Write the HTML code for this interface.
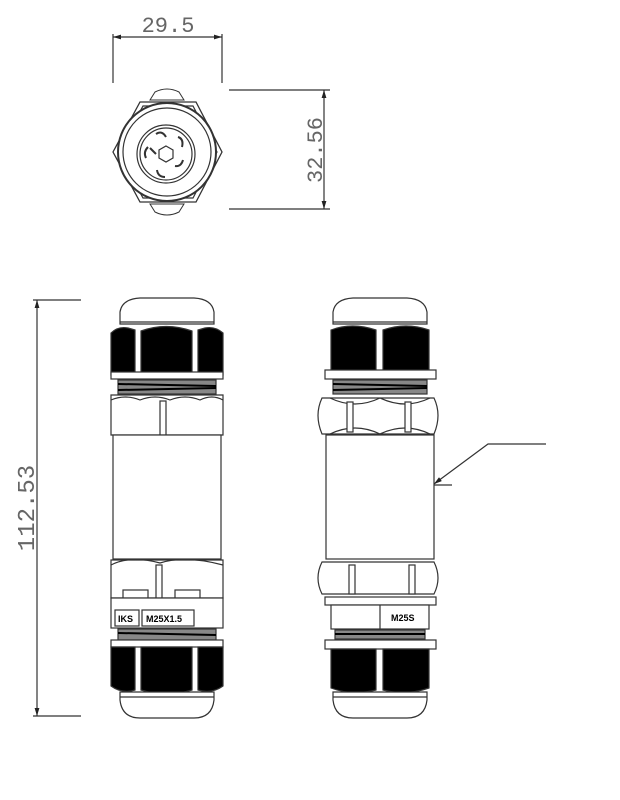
<!DOCTYPE html>
<html><head><meta charset="utf-8"><style>
html,body{margin:0;padding:0;background:#fff;width:620px;height:800px;overflow:hidden}
svg{display:block}
text{font-family:"Liberation Mono","DejaVu Sans Mono",monospace;fill:#666}
</style></head><body>
<svg width="620" height="800" viewBox="0 0 620 800" xmlns="http://www.w3.org/2000/svg">
<defs>
<marker id="a" viewBox="0 0 10 6" refX="10" refY="3" markerWidth="8" markerHeight="4" orient="auto-start-reverse"><path d="M0,0 L10,3 L0,6z" fill="#222"/></marker>
</defs>
<g stroke="#333" stroke-width="1.2" fill="none">
<!-- top dims -->
<line x1="113" y1="34" x2="113" y2="83"/><line x1="222" y1="34" x2="222" y2="83"/>
<line x1="113" y1="37" x2="222" y2="37" marker-start="url(#a)" marker-end="url(#a)"/>
<line x1="229" y1="90" x2="330" y2="90"/><line x1="229" y1="209" x2="330" y2="209"/>
<line x1="324" y1="90" x2="324" y2="209" marker-start="url(#a)" marker-end="url(#a)"/>
<!-- top view -->
<path d="M155,92 Q167,86 179,92 L184,100 L150,100z" stroke-width="1"/>
<path d="M155,212 Q167,218 179,212 L184,204 L150,204z" stroke-width="1"/>
<polygon points="140,102 196,102 222,152 196,202 140,202 113,152" stroke-width="1.3" fill="#fff"/>
<polygon points="143,106 193,106 217,152 193,198 143,198 118,152"/>
<circle cx="167" cy="152" r="49" stroke-width="2" fill="#fff"/>
<circle cx="167" cy="152" r="44"/>
<circle cx="166" cy="154" r="29"/>
<circle cx="166" cy="154" r="26"/>
<polygon points="166,146 173,150 173,158 166,162 159,158 159,150"/>
<g stroke-width="2">
<path d="M156,134 q6,-4 10,3"/><path d="M178,137 q6,2 4,10"/><path d="M183,160 q-2,7 -8,6"/><path d="M165,177 q-7,0 -8,-7"/><path d="M146,158 q-3,-6 2,-11"/><path d="M150,148 l6,6"/>
</g>
<!-- left dim -->
<line x1="33" y1="300" x2="81" y2="300"/><line x1="33" y1="716" x2="81" y2="716"/>
<line x1="37" y1="300" x2="37" y2="716" marker-start="url(#a)" marker-end="url(#a)"/>
<!-- leader -->
<polyline points="546,444 488,444 434,484" marker-end="url(#a)"/>
<line x1="434" y1="485" x2="452" y2="485"/>
</g>
<text x="168" y="32" font-size="22" text-anchor="middle">29.5</text>
<text transform="translate(322,150) rotate(-90)" font-size="22" text-anchor="middle">32.56</text>
<text transform="translate(34,508) rotate(-90)" font-size="24" text-anchor="middle">112.53</text>

<!-- LEFT component -->
<g stroke="#333" stroke-width="1.2">
<path d="M120,324 L120,312 Q122,299 140,298 L194,298 Q212,299 214,312 L214,324z" fill="#fff"/>
<line x1="120" y1="322" x2="214" y2="322"/>
<path d="M111,333 Q118,326 128,328 L135,330 L135,375 L111,375z" fill="#000"/>
<path d="M141,331 Q166,322 192,331 L192,375 L141,375z" fill="#000"/>
<path d="M198,330 L205,328 Q215,326 223,333 L223,375 L198,375z" fill="#000"/>
<rect x="111" y="372" width="112" height="7" fill="#fff"/>
<rect x="118" y="380" width="98" height="14" fill="#888"/>
<line x1="118" y1="384" x2="216" y2="386" stroke="#000" stroke-width="2"/>
<line x1="118" y1="390" x2="216" y2="388" stroke="#000" stroke-width="2"/>
<path d="M111,395 L223,395 L223,435 L111,435z" fill="#fff"/>
<path d="M111,400 Q125,394 140,400 Q155,394 170,400 Q185,394 200,400 Q212,394 223,400" fill="none"/>
<rect x="160" y="401" width="6" height="34" fill="#fff"/>
<rect x="113" y="435" width="108" height="124" fill="#fff"/>
<path d="M111,560 L223,560 L223,598 L111,598z" fill="#fff"/>
<path d="M111,565 Q130,555 160,563 Q185,555 223,565" fill="none"/>
<rect x="156" y="565" width="6" height="33" fill="#fff"/>
<rect x="123" y="590" width="25" height="8" fill="#fff"/><rect x="175" y="590" width="25" height="8" fill="#fff"/>
<rect x="111" y="598" width="112" height="30" fill="#fff"/>
<rect x="115" y="610" width="24" height="16" fill="#fff"/><rect x="142" y="610" width="52" height="16" fill="#fff"/>
<rect x="118" y="629" width="98" height="11" fill="#888"/>
<line x1="118" y1="633" x2="216" y2="635" stroke="#000" stroke-width="2"/>
<rect x="111" y="640" width="112" height="7" fill="#fff"/>
<path d="M111,647 L135,647 L135,690 Q122,694 111,686z" fill="#000"/>
<path d="M141,647 L192,647 L192,690 Q166,698 141,690z" fill="#000"/>
<path d="M198,647 L223,647 L223,686 Q212,694 198,690z" fill="#000"/>
<path d="M120,692 L214,692 L214,700 Q212,718 194,718 L140,718 Q122,718 120,700z" fill="#fff"/>
<line x1="120" y1="697" x2="214" y2="697"/>
</g>
<text x="118" y="622" font-size="9" style="fill:#000;font-weight:bold;font-family:'Liberation Sans',sans-serif">IKS</text>
<text x="146" y="622" font-size="9" style="fill:#000;font-weight:bold;font-family:'Liberation Sans',sans-serif">M25X1.5</text>

<!-- RIGHT component -->
<g stroke="#333" stroke-width="1.2">
<path d="M333,324 L333,312 Q335,299 353,298 L407,298 Q425,299 427,312 L427,324z" fill="#fff"/>
<line x1="333" y1="322" x2="427" y2="322"/>
<path d="M331,330 Q352,322 376,330 L376,372 L331,372z" fill="#000"/>
<path d="M383,330 Q406,322 429,330 L429,372 L383,372z" fill="#000"/>
<rect x="325" y="370" width="111" height="9" fill="#fff"/>
<rect x="333" y="380" width="94" height="14" fill="#888"/>
<line x1="333" y1="384" x2="427" y2="386" stroke="#000" stroke-width="2"/>
<line x1="333" y1="390" x2="427" y2="388" stroke="#000" stroke-width="2"/>
<path d="M322,398 L434,398 Q442,415 434,434 L322,434 Q314,415 322,398z" fill="#fff"/>
<path d="M330,398 Q355,410 380,398 Q405,410 430,398 M330,434 Q355,422 380,434 Q405,422 430,434" fill="none"/>
<rect x="347" y="402" width="6" height="30" fill="#fff"/><rect x="405" y="402" width="6" height="30" fill="#fff"/>
<rect x="326" y="435" width="108" height="124" fill="#fff"/>
<path d="M322,562 L434,562 Q442,578 434,594 L322,594 Q314,578 322,562z" fill="#fff"/>
<rect x="349" y="565" width="6" height="29" fill="#fff"/><rect x="409" y="565" width="6" height="29" fill="#fff"/>
<rect x="325" y="597" width="111" height="8" fill="#fff"/>
<rect x="331" y="605" width="98" height="24" fill="#fff"/>
<line x1="380" y1="605" x2="380" y2="629"/>
<rect x="335" y="630" width="90" height="9" fill="#888"/>
<line x1="335" y1="634" x2="425" y2="634" stroke="#000" stroke-width="2"/>
<rect x="325" y="640" width="111" height="9" fill="#fff"/>
<path d="M331,649 L376,649 L376,690 Q352,696 331,688z" fill="#000"/>
<path d="M383,649 L429,649 L429,688 Q406,696 383,690z" fill="#000"/>
<path d="M333,692 L427,692 L427,700 Q425,718 407,718 L353,718 Q335,718 333,700z" fill="#fff"/>
<line x1="333" y1="697" x2="427" y2="697"/>
</g>
<text x="391" y="621" font-size="9" style="fill:#000;font-weight:bold;font-family:'Liberation Sans',sans-serif">M25S</text>
</svg>
</body></html>
